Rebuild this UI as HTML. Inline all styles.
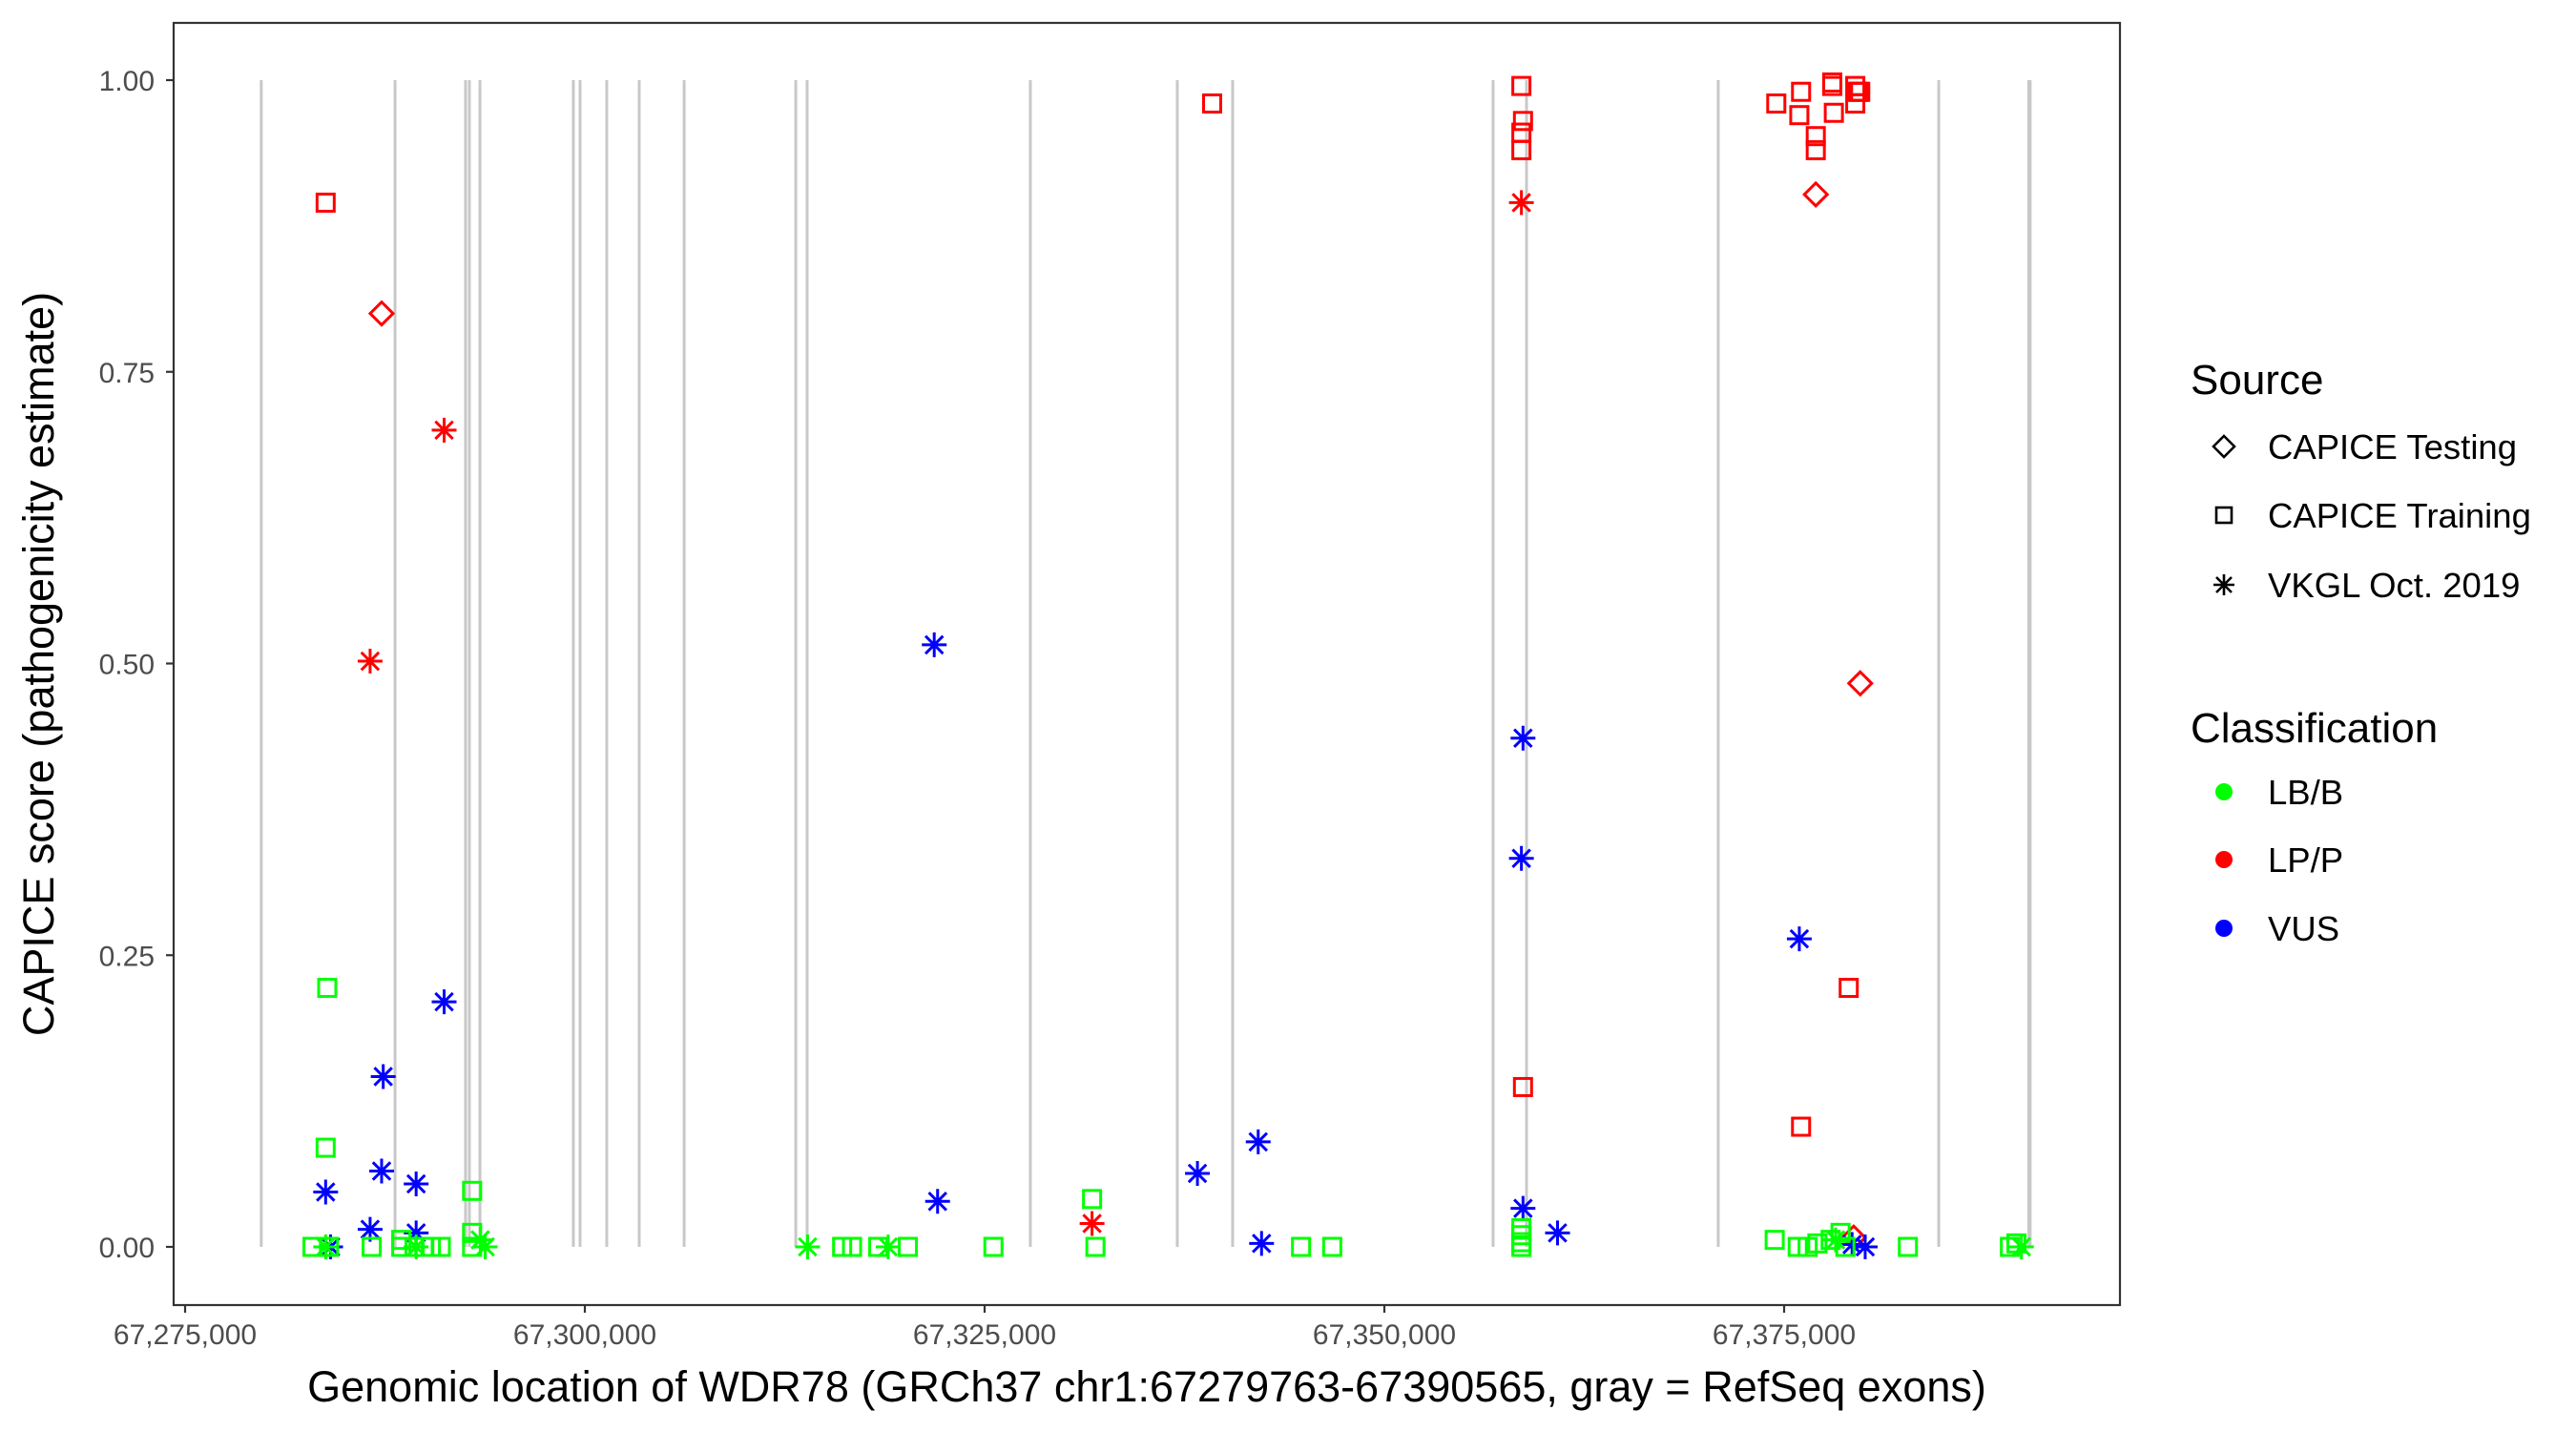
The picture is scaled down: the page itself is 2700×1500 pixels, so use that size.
<!DOCTYPE html>
<html><head><meta charset="utf-8"><style>
html,body{margin:0;padding:0;background:#fff;}
svg{display:block;font-family:"Liberation Sans",Arial,sans-serif;}
</style></head><body>
<svg id="chart" width="2700" height="1500" viewBox="0 0 2700 1500" xmlns="http://www.w3.org/2000/svg">
<rect x="0" y="0" width="2700" height="1500" fill="#fff"/>
<g id="exons"></g>
<g id="points"></g>
<rect x="182" y="24" width="2040" height="1344" fill="none" stroke="#333" stroke-width="2.2"/>
<g id="axes"></g>
<text transform="translate(56,696) rotate(-90)" text-anchor="middle" font-size="45" fill="#000">CAPICE score (pathogenicity estimate)</text>
<text x="1202" y="1469" text-anchor="middle" font-size="45" fill="#000">Genomic location of WDR78 (GRCh37 chr1:67279763-67390565, gray = RefSeq exons)</text>
<g>
<text x="2296" y="413" font-size="44">Source</text>
<g>
<path d="M2331,457 L2342,468 L2331,479 L2320,468 Z" fill="none" stroke="#000" stroke-width="2.6"/>
<text x="2377" y="481" font-size="36.5">CAPICE Testing</text></g>
<g>
<rect x="2323" y="532" width="16" height="16" fill="none" stroke="#000" stroke-width="2.6"/>
<text x="2377" y="553" font-size="36.5">CAPICE Training</text></g>
<g>
<path d="M2320,613 L2342,613 M2331,602 L2331,624 M2323,605 L2339,621 M2339,605 L2323,621" stroke="#000" stroke-width="2.6"/>
<text x="2377" y="626" font-size="36.5">VKGL Oct. 2019</text></g>
</g>
<g>
<text x="2296" y="778" font-size="44">Classification</text>
<g><circle cx="2331" cy="830" r="9" fill="#00ff00"/><text x="2377" y="843" font-size="36.5">LB/B</text></g>
<g><circle cx="2331" cy="901" r="9" fill="#ff0000"/><text x="2377" y="914" font-size="36.5">LP/P</text></g>
<g><circle cx="2331" cy="973" r="9" fill="#0000ff"/><text x="2377" y="986" font-size="36.5">VUS</text></g>
</g>
</svg>
<script>
// exon positions (bp offsets from 67,275,000)
const exonStarts = [4763, 13130, 17540, 17780, 18440, 24280, 24700, 26370, 28400, 31210, 38190, 38900, 52860, 62050, 65510, 81800, 83890, 95880, 109670, 115300];
const exonEnds   = [4850, 13250, 17700, 17880, 18550, 24380, 24800, 26480, 28520, 31330, 38300, 39000, 52980, 62150, 65620, 81900, 84000, 95980, 109760, 115565];
const xTicks = [67275000, 67300000, 67325000, 67350000, 67375000];
const xTickLabels = ["67,275,000", "67,300,000", "67,325,000", "67,350,000", "67,375,000"];
const yTicks = [0, 0.25, 0.5, 0.75, 1];
const yTickLabels = ["0.00", "0.25", "0.50", "0.75", "1.00"];
// points: position (bp offset from 67,275,000), score, source, classification
const ptPos = [
 8790,12290,16200,11570,64230,56720,83570,83670,83570,83570,83570,83670,
 99510,101060,100950,101980,101980,103010,103010,103110,104450,104550,104660,104450,104760,101980,104760,104040,101060,104350,
 8790,9100,11570,12390,12290,14450,14450,16200,46850,47060,63310,67110,67320,83670,83570,83670,85830,100950,104250,105070,
 8890,8790,7970,9000,11670,13520,13520,14350,14960,15370,15990,17950,17950,17950,41090,41710,43350,45200,50550,56720,56930,69790,71740,
 83570,83570,83570,83570,99410,100850,101470,102080,102910,103530,103830,107740,114120,114530,
 8790,14450,18460,18770,38930,43970,103220,114840
];
const ptScore = [
 0.895,0.80,0.70,0.502,0.98,0.02,0.995,0.965,0.955,0.94,0.895,0.137,
 0.98,0.99,0.97,0.952,0.94,0.998,0.995,0.972,0.995,0.99,0.99,0.98,0.99,0.902,0.483,0.222,0.103,0.008,
 0.047,0.0,0.015,0.146,0.065,0.054,0.012,0.21,0.516,0.039,0.063,0.09,0.003,0.436,0.333,0.033,0.012,0.264,0.002,0.0,
 0.222,0.085,0.0,0.0,0.0,0.006,0.0,0.0,0.0,0.0,0.0,0.048,0.012,0.0,0.0,0.0,0.0,0.0,0.0,0.041,0.0,0.0,0.0,
 0.016,0.01,0.004,0.0,0.006,0.0,0.0,0.003,0.006,0.012,0.0,0.0,0.0,0.003,
 0.0,0.0,0.006,0.0,0.0,0.0,0.006,0.0
];
const ptSource = [
 "T","D","V","V","T","V","T","T","T","T","V","T",
 "T","T","T","T","T","T","T","T","T","T","T","T","T","D","D","T","T","D",
 "V","V","V","V","V","V","V","V","V","V","V","V","V","V","V","V","V","V","V","V",
 "T","T","T","T","T","T","T","T","T","T","T","T","T","T","T","T","T","T","T","T","T","T","T",
 "T","T","T","T","T","T","T","T","T","T","T","T","T","T",
 "V","V","V","V","V","V","V","V"
];
const ptClass = [
 "P","P","P","P","P","P","P","P","P","P","P","P",
 "P","P","P","P","P","P","P","P","P","P","P","P","P","P","P","P","P","P",
 "U","U","U","U","U","U","U","U","U","U","U","U","U","U","U","U","U","U","U","U",
 "B","B","B","B","B","B","B","B","B","B","B","B","B","B","B","B","B","B","B","B","B","B","B",
 "B","B","B","B","B","B","B","B","B","B","B","B","B","B",
 "B","B","B","B","B","B","B","B"
];
const NS="http://www.w3.org/2000/svg";
const X0=67275000;
function xs(bp){return 194+(bp-X0)*419/25000;}
function xo(off){return xs(X0+off);}
function ys(v){return 1307-v*1223;}
function mk(tag,attrs,parent){const e=document.createElementNS(NS,tag);for(const k in attrs)e.setAttribute(k,attrs[k]);parent.appendChild(e);return e;}
const exG=document.getElementById('exons');
for(let i=0;i<exonStarts.length;i++){
 const x1=xo(exonStarts[i]),x2=xo(exonEnds[i]);
 const w=Math.max(3,x2-x1);
 const r=mk('rect',{x:x1-1.5,y:ys(1),width:w,height:ys(0)-ys(1),fill:'#c8c8c8'},exG);
 
 
}
const ax=document.getElementById('axes');
for(let i=0;i<xTicks.length;i++){
 const x=xs(xTicks[i]);
 const t=mk('line',{x1:x,x2:x,y1:1368,y2:1376,stroke:'#333','stroke-width':2.2},ax);
 
 
 const l=mk('text',{x:x,y:1409,'text-anchor':'middle','font-size':30,fill:'#4d4d4d'},ax);
 l.textContent=xTickLabels[i];
 
 
}
for(let i=0;i<yTicks.length;i++){
 const y=ys(yTicks[i]);
 const t=mk('line',{x1:174,x2:182,y1:y,y2:y,stroke:'#333','stroke-width':2.2},ax);
 
 
 const l=mk('text',{x:162,y:y+11,'text-anchor':'end','font-size':30,fill:'#4d4d4d'},ax);
 l.textContent=yTickLabels[i];
 
 
}
const colors={B:'#00ff00',P:'#ff0000',U:'#0000ff'};
const pg=document.getElementById('points');
for(let i=0;i<ptPos.length;i++){
 const x=xo(ptPos[i]),y=ys(ptScore[i]),c=colors[ptClass[i]];
 let e;
 if(ptSource[i]==='T'){
  e=mk('rect',{x:x-9,y:y-9,width:18,height:18,fill:'none',stroke:c,'stroke-width':3},pg);
 }else if(ptSource[i]==='D'){
  e=mk('path',{d:`M${x},${y-12} L${x+12},${y} L${x},${y+12} L${x-12},${y} Z`,fill:'none',stroke:c,'stroke-width':3},pg);
 }else{
  const s=13,d=9.2;
  e=mk('path',{d:`M${x-s},${y} L${x+s},${y} M${x},${y-s} L${x},${y+s} M${x-d},${y-d} L${x+d},${y+d} M${x+d},${y-d} L${x-d},${y+d}`,fill:'none',stroke:c,'stroke-width':3},pg);
 }
 
 
}
</script>
</body></html>
